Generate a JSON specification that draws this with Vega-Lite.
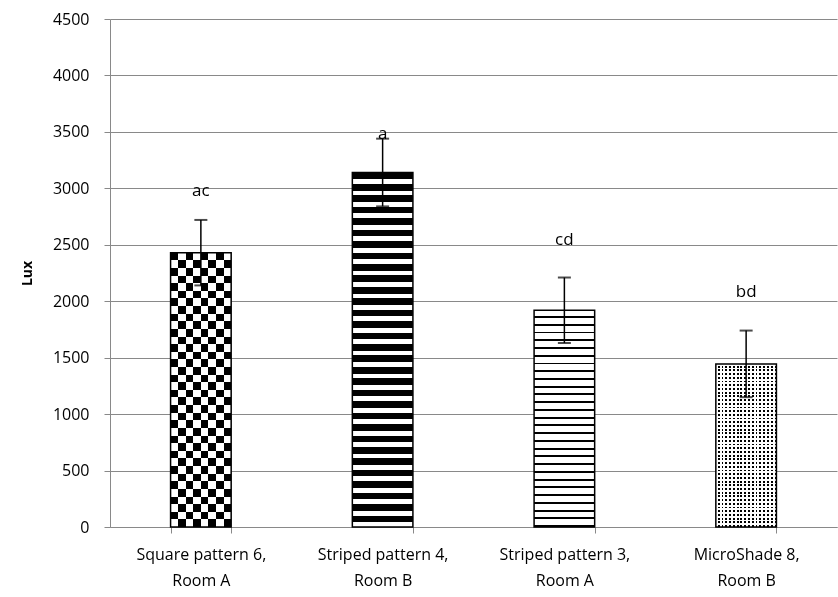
{
  "$schema": "https://vega.github.io/schema/vega-lite/v6.json",
  "autosize": "none",
  "width": 727,
  "height": 508,
  "padding": {"left": 110, "top": 19, "right": 1, "bottom": 70},
  "background": "white",
  "config": {
    "view": {"stroke": null},
    "font": "Open Sans",
    "axis": {"labelColor": "#000000", "titleColor": "#000000"}
  },
  "data": {
    "values": [
      {"cat": "Square pattern 6, Room A", "mean": 2430, "lo": 2140, "hi": 2720, "sig": "ac", "sig_y": 2976, "pat": "check"},
      {"cat": "Striped pattern 4, Room B", "mean": 3140, "lo": 2840, "hi": 3440, "sig": "a", "sig_y": 3481, "pat": "thick"},
      {"cat": "Striped pattern 3, Room A", "mean": 1920, "lo": 1630, "hi": 2210, "sig": "cd", "sig_y": 2542, "pat": "thin"},
      {"cat": "MicroShade 8, Room B", "mean": 1445, "lo": 1150, "hi": 1740, "sig": "bd", "sig_y": 2082, "pat": "dots"}
    ]
  },
  "encoding": {
    "x": {
      "field": "cat", "type": "nominal", "sort": null,
      "scale": {"paddingInner": 0.6667, "paddingOuter": 0.3333},
      "axis": {
        "title": null, "labelAngle": 0, "labelFontSize": 16, "labelLineHeight": 26,
        "labelPadding": 13, "tickBand": "extent", "tickSize": 6, "tickColor": "#898989",
        "domainColor": "#898989", "grid": false,
        "labelExpr": "[slice(datum.label, 0, indexof(datum.label, ',') + 1), slice(datum.label, indexof(datum.label, ',') + 2)]"
      }
    }
  },
  "layer": [
    {
      "transform": [{"filter": "datum.pat == 'check'"}],
      "mark": {"type": "bar", "fill": {"gradient": "linear", "x1": 0, "y1": 0, "x2": 0, "y2": 1, "stops": [
        {"offset": 0, "color": "black"}, {"offset": 0.02778, "color": "black"}, {"offset": 0.02778, "color": "white"}, {"offset": 0.05556, "color": "white"},
        {"offset": 0.05556, "color": "black"}, {"offset": 0.08333, "color": "black"}, {"offset": 0.08333, "color": "white"}, {"offset": 0.11111, "color": "white"},
        {"offset": 0.11111, "color": "black"}, {"offset": 0.13889, "color": "black"}, {"offset": 0.13889, "color": "white"}, {"offset": 0.16667, "color": "white"},
        {"offset": 0.16667, "color": "black"}, {"offset": 0.19444, "color": "black"}, {"offset": 0.19444, "color": "white"}, {"offset": 0.22222, "color": "white"},
        {"offset": 0.22222, "color": "black"}, {"offset": 0.25, "color": "black"}, {"offset": 0.25, "color": "white"}, {"offset": 0.27778, "color": "white"},
        {"offset": 0.27778, "color": "black"}, {"offset": 0.30556, "color": "black"}, {"offset": 0.30556, "color": "white"}, {"offset": 0.33333, "color": "white"},
        {"offset": 0.33333, "color": "black"}, {"offset": 0.36111, "color": "black"}, {"offset": 0.36111, "color": "white"}, {"offset": 0.38889, "color": "white"},
        {"offset": 0.38889, "color": "black"}, {"offset": 0.41667, "color": "black"}, {"offset": 0.41667, "color": "white"}, {"offset": 0.44444, "color": "white"},
        {"offset": 0.44444, "color": "black"}, {"offset": 0.47222, "color": "black"}, {"offset": 0.47222, "color": "white"}, {"offset": 0.5, "color": "white"},
        {"offset": 0.5, "color": "black"}, {"offset": 0.52778, "color": "black"}, {"offset": 0.52778, "color": "white"}, {"offset": 0.55556, "color": "white"},
        {"offset": 0.55556, "color": "black"}, {"offset": 0.58333, "color": "black"}, {"offset": 0.58333, "color": "white"}, {"offset": 0.61111, "color": "white"},
        {"offset": 0.61111, "color": "black"}, {"offset": 0.63889, "color": "black"}, {"offset": 0.63889, "color": "white"}, {"offset": 0.66667, "color": "white"},
        {"offset": 0.66667, "color": "black"}, {"offset": 0.69444, "color": "black"}, {"offset": 0.69444, "color": "white"}, {"offset": 0.72222, "color": "white"},
        {"offset": 0.72222, "color": "black"}, {"offset": 0.75, "color": "black"}, {"offset": 0.75, "color": "white"}, {"offset": 0.77778, "color": "white"},
        {"offset": 0.77778, "color": "black"}, {"offset": 0.80556, "color": "black"}, {"offset": 0.80556, "color": "white"}, {"offset": 0.83333, "color": "white"},
        {"offset": 0.83333, "color": "black"}, {"offset": 0.86111, "color": "black"}, {"offset": 0.86111, "color": "white"}, {"offset": 0.88889, "color": "white"},
        {"offset": 0.88889, "color": "black"}, {"offset": 0.91667, "color": "black"}, {"offset": 0.91667, "color": "white"}, {"offset": 0.94444, "color": "white"},
        {"offset": 0.94444, "color": "black"}, {"offset": 0.97222, "color": "black"}, {"offset": 0.97222, "color": "white"}, {"offset": 1, "color": "white"}
      ]}},
      "encoding": {"y": {"field": "mean", "type": "quantitative"}}
    },
    {
      "transform": [{"filter": "datum.pat == 'check'"}],
      "mark": {"type": "bar", "blend": "difference", "fill": {"gradient": "linear", "x1": 0, "y1": 0, "x2": 1, "y2": 0, "stops": [
        {"offset": 0, "color": "rgba(255,255,255,0)"}, {"offset": 0.125, "color": "rgba(255,255,255,0)"}, {"offset": 0.125, "color": "white"}, {"offset": 0.25, "color": "white"},
        {"offset": 0.25, "color": "rgba(255,255,255,0)"}, {"offset": 0.375, "color": "rgba(255,255,255,0)"}, {"offset": 0.375, "color": "white"}, {"offset": 0.5, "color": "white"},
        {"offset": 0.5, "color": "rgba(255,255,255,0)"}, {"offset": 0.625, "color": "rgba(255,255,255,0)"}, {"offset": 0.625, "color": "white"}, {"offset": 0.75, "color": "white"},
        {"offset": 0.75, "color": "rgba(255,255,255,0)"}, {"offset": 0.875, "color": "rgba(255,255,255,0)"}, {"offset": 0.875, "color": "white"}, {"offset": 1, "color": "white"}
      ]}},
      "encoding": {"y": {"field": "mean", "type": "quantitative"}}
    },
    {
      "transform": [{"filter": "datum.pat == 'thick'"}],
      "mark": {"type": "bar", "fill": {"gradient": "linear", "x1": 0, "y1": 0, "x2": 0, "y2": 1, "stops": [
        {"offset": 0, "color": "black"}, {"offset": 0.01871, "color": "black"}, {"offset": 0.01871, "color": "white"}, {"offset": 0.03226, "color": "white"},
        {"offset": 0.03226, "color": "black"}, {"offset": 0.05097, "color": "black"}, {"offset": 0.05097, "color": "white"}, {"offset": 0.06452, "color": "white"},
        {"offset": 0.06452, "color": "black"}, {"offset": 0.08323, "color": "black"}, {"offset": 0.08323, "color": "white"}, {"offset": 0.09677, "color": "white"},
        {"offset": 0.09677, "color": "black"}, {"offset": 0.11548, "color": "black"}, {"offset": 0.11548, "color": "white"}, {"offset": 0.12903, "color": "white"},
        {"offset": 0.12903, "color": "black"}, {"offset": 0.14774, "color": "black"}, {"offset": 0.14774, "color": "white"}, {"offset": 0.16129, "color": "white"},
        {"offset": 0.16129, "color": "black"}, {"offset": 0.18, "color": "black"}, {"offset": 0.18, "color": "white"}, {"offset": 0.19355, "color": "white"},
        {"offset": 0.19355, "color": "black"}, {"offset": 0.21226, "color": "black"}, {"offset": 0.21226, "color": "white"}, {"offset": 0.22581, "color": "white"},
        {"offset": 0.22581, "color": "black"}, {"offset": 0.24452, "color": "black"}, {"offset": 0.24452, "color": "white"}, {"offset": 0.25806, "color": "white"},
        {"offset": 0.25806, "color": "black"}, {"offset": 0.27677, "color": "black"}, {"offset": 0.27677, "color": "white"}, {"offset": 0.29032, "color": "white"},
        {"offset": 0.29032, "color": "black"}, {"offset": 0.30903, "color": "black"}, {"offset": 0.30903, "color": "white"}, {"offset": 0.32258, "color": "white"},
        {"offset": 0.32258, "color": "black"}, {"offset": 0.34129, "color": "black"}, {"offset": 0.34129, "color": "white"}, {"offset": 0.35484, "color": "white"},
        {"offset": 0.35484, "color": "black"}, {"offset": 0.37355, "color": "black"}, {"offset": 0.37355, "color": "white"}, {"offset": 0.3871, "color": "white"},
        {"offset": 0.3871, "color": "black"}, {"offset": 0.40581, "color": "black"}, {"offset": 0.40581, "color": "white"}, {"offset": 0.41935, "color": "white"},
        {"offset": 0.41935, "color": "black"}, {"offset": 0.43806, "color": "black"}, {"offset": 0.43806, "color": "white"}, {"offset": 0.45161, "color": "white"},
        {"offset": 0.45161, "color": "black"}, {"offset": 0.47032, "color": "black"}, {"offset": 0.47032, "color": "white"}, {"offset": 0.48387, "color": "white"},
        {"offset": 0.48387, "color": "black"}, {"offset": 0.50258, "color": "black"}, {"offset": 0.50258, "color": "white"}, {"offset": 0.51613, "color": "white"},
        {"offset": 0.51613, "color": "black"}, {"offset": 0.53484, "color": "black"}, {"offset": 0.53484, "color": "white"}, {"offset": 0.54839, "color": "white"},
        {"offset": 0.54839, "color": "black"}, {"offset": 0.5671, "color": "black"}, {"offset": 0.5671, "color": "white"}, {"offset": 0.58065, "color": "white"},
        {"offset": 0.58065, "color": "black"}, {"offset": 0.59936, "color": "black"}, {"offset": 0.59936, "color": "white"}, {"offset": 0.6129, "color": "white"},
        {"offset": 0.6129, "color": "black"}, {"offset": 0.63161, "color": "black"}, {"offset": 0.63161, "color": "white"}, {"offset": 0.64516, "color": "white"},
        {"offset": 0.64516, "color": "black"}, {"offset": 0.66387, "color": "black"}, {"offset": 0.66387, "color": "white"}, {"offset": 0.67742, "color": "white"},
        {"offset": 0.67742, "color": "black"}, {"offset": 0.69613, "color": "black"}, {"offset": 0.69613, "color": "white"}, {"offset": 0.70968, "color": "white"},
        {"offset": 0.70968, "color": "black"}, {"offset": 0.72839, "color": "black"}, {"offset": 0.72839, "color": "white"}, {"offset": 0.74194, "color": "white"},
        {"offset": 0.74194, "color": "black"}, {"offset": 0.76065, "color": "black"}, {"offset": 0.76065, "color": "white"}, {"offset": 0.77419, "color": "white"},
        {"offset": 0.77419, "color": "black"}, {"offset": 0.7929, "color": "black"}, {"offset": 0.7929, "color": "white"}, {"offset": 0.80645, "color": "white"},
        {"offset": 0.80645, "color": "black"}, {"offset": 0.82516, "color": "black"}, {"offset": 0.82516, "color": "white"}, {"offset": 0.83871, "color": "white"},
        {"offset": 0.83871, "color": "black"}, {"offset": 0.85742, "color": "black"}, {"offset": 0.85742, "color": "white"}, {"offset": 0.87097, "color": "white"},
        {"offset": 0.87097, "color": "black"}, {"offset": 0.88968, "color": "black"}, {"offset": 0.88968, "color": "white"}, {"offset": 0.90323, "color": "white"},
        {"offset": 0.90323, "color": "black"}, {"offset": 0.92194, "color": "black"}, {"offset": 0.92194, "color": "white"}, {"offset": 0.93548, "color": "white"},
        {"offset": 0.93548, "color": "black"}, {"offset": 0.95419, "color": "black"}, {"offset": 0.95419, "color": "white"}, {"offset": 0.96774, "color": "white"},
        {"offset": 0.96774, "color": "black"}, {"offset": 0.98645, "color": "black"}, {"offset": 0.98645, "color": "white"}, {"offset": 1, "color": "white"}
      ]}},
      "encoding": {"y": {"field": "mean", "type": "quantitative"}}
    },
    {
      "transform": [{"filter": "datum.pat == 'thin'"}],
      "mark": {"type": "bar", "fill": {"gradient": "linear", "x1": 0, "y1": 0, "x2": 0, "y2": 1, "stops": [
        {"offset": 0, "color": "white"}, {"offset": 0.02679, "color": "white"}, {"offset": 0.02679, "color": "black"}, {"offset": 0.03571, "color": "black"},
        {"offset": 0.03571, "color": "white"}, {"offset": 0.0625, "color": "white"}, {"offset": 0.0625, "color": "black"}, {"offset": 0.07143, "color": "black"},
        {"offset": 0.07143, "color": "white"}, {"offset": 0.09821, "color": "white"}, {"offset": 0.09821, "color": "black"}, {"offset": 0.10714, "color": "black"},
        {"offset": 0.10714, "color": "white"}, {"offset": 0.13393, "color": "white"}, {"offset": 0.13393, "color": "black"}, {"offset": 0.14286, "color": "black"},
        {"offset": 0.14286, "color": "white"}, {"offset": 0.16964, "color": "white"}, {"offset": 0.16964, "color": "black"}, {"offset": 0.17857, "color": "black"},
        {"offset": 0.17857, "color": "white"}, {"offset": 0.20536, "color": "white"}, {"offset": 0.20536, "color": "black"}, {"offset": 0.21429, "color": "black"},
        {"offset": 0.21429, "color": "white"}, {"offset": 0.24107, "color": "white"}, {"offset": 0.24107, "color": "black"}, {"offset": 0.25, "color": "black"},
        {"offset": 0.25, "color": "white"}, {"offset": 0.27679, "color": "white"}, {"offset": 0.27679, "color": "black"}, {"offset": 0.28571, "color": "black"},
        {"offset": 0.28571, "color": "white"}, {"offset": 0.3125, "color": "white"}, {"offset": 0.3125, "color": "black"}, {"offset": 0.32143, "color": "black"},
        {"offset": 0.32143, "color": "white"}, {"offset": 0.34821, "color": "white"}, {"offset": 0.34821, "color": "black"}, {"offset": 0.35714, "color": "black"},
        {"offset": 0.35714, "color": "white"}, {"offset": 0.38393, "color": "white"}, {"offset": 0.38393, "color": "black"}, {"offset": 0.39286, "color": "black"},
        {"offset": 0.39286, "color": "white"}, {"offset": 0.41964, "color": "white"}, {"offset": 0.41964, "color": "black"}, {"offset": 0.42857, "color": "black"},
        {"offset": 0.42857, "color": "white"}, {"offset": 0.45536, "color": "white"}, {"offset": 0.45536, "color": "black"}, {"offset": 0.46429, "color": "black"},
        {"offset": 0.46429, "color": "white"}, {"offset": 0.49107, "color": "white"}, {"offset": 0.49107, "color": "black"}, {"offset": 0.5, "color": "black"},
        {"offset": 0.5, "color": "white"}, {"offset": 0.52679, "color": "white"}, {"offset": 0.52679, "color": "black"}, {"offset": 0.53571, "color": "black"},
        {"offset": 0.53571, "color": "white"}, {"offset": 0.5625, "color": "white"}, {"offset": 0.5625, "color": "black"}, {"offset": 0.57143, "color": "black"},
        {"offset": 0.57143, "color": "white"}, {"offset": 0.59821, "color": "white"}, {"offset": 0.59821, "color": "black"}, {"offset": 0.60714, "color": "black"},
        {"offset": 0.60714, "color": "white"}, {"offset": 0.63393, "color": "white"}, {"offset": 0.63393, "color": "black"}, {"offset": 0.64286, "color": "black"},
        {"offset": 0.64286, "color": "white"}, {"offset": 0.66964, "color": "white"}, {"offset": 0.66964, "color": "black"}, {"offset": 0.67857, "color": "black"},
        {"offset": 0.67857, "color": "white"}, {"offset": 0.70536, "color": "white"}, {"offset": 0.70536, "color": "black"}, {"offset": 0.71429, "color": "black"},
        {"offset": 0.71429, "color": "white"}, {"offset": 0.74107, "color": "white"}, {"offset": 0.74107, "color": "black"}, {"offset": 0.75, "color": "black"},
        {"offset": 0.75, "color": "white"}, {"offset": 0.77679, "color": "white"}, {"offset": 0.77679, "color": "black"}, {"offset": 0.78571, "color": "black"},
        {"offset": 0.78571, "color": "white"}, {"offset": 0.8125, "color": "white"}, {"offset": 0.8125, "color": "black"}, {"offset": 0.82143, "color": "black"},
        {"offset": 0.82143, "color": "white"}, {"offset": 0.84821, "color": "white"}, {"offset": 0.84821, "color": "black"}, {"offset": 0.85714, "color": "black"},
        {"offset": 0.85714, "color": "white"}, {"offset": 0.88393, "color": "white"}, {"offset": 0.88393, "color": "black"}, {"offset": 0.89286, "color": "black"},
        {"offset": 0.89286, "color": "white"}, {"offset": 0.91964, "color": "white"}, {"offset": 0.91964, "color": "black"}, {"offset": 0.92857, "color": "black"},
        {"offset": 0.92857, "color": "white"}, {"offset": 0.95536, "color": "white"}, {"offset": 0.95536, "color": "black"}, {"offset": 0.96429, "color": "black"},
        {"offset": 0.96429, "color": "white"}, {"offset": 0.99107, "color": "white"}, {"offset": 0.99107, "color": "black"}, {"offset": 1, "color": "black"}
      ]}},
      "encoding": {"y": {"field": "mean", "type": "quantitative"}}
    },
    {
      "transform": [{"filter": "datum.pat == 'dots'"}],
      "mark": {"type": "bar", "fill": {"gradient": "linear", "x1": 0, "y1": 0, "x2": 0, "y2": 1, "stops": [
        {"offset": 0, "color": "white"}, {"offset": 0.01136, "color": "white"}, {"offset": 0.01136, "color": "black"}, {"offset": 0.02273, "color": "black"},
        {"offset": 0.02273, "color": "white"}, {"offset": 0.03409, "color": "white"}, {"offset": 0.03409, "color": "black"}, {"offset": 0.04545, "color": "black"},
        {"offset": 0.04545, "color": "white"}, {"offset": 0.05682, "color": "white"}, {"offset": 0.05682, "color": "black"}, {"offset": 0.06818, "color": "black"},
        {"offset": 0.06818, "color": "white"}, {"offset": 0.07955, "color": "white"}, {"offset": 0.07955, "color": "black"}, {"offset": 0.09091, "color": "black"},
        {"offset": 0.09091, "color": "white"}, {"offset": 0.10227, "color": "white"}, {"offset": 0.10227, "color": "black"}, {"offset": 0.11364, "color": "black"},
        {"offset": 0.11364, "color": "white"}, {"offset": 0.125, "color": "white"}, {"offset": 0.125, "color": "black"}, {"offset": 0.13636, "color": "black"},
        {"offset": 0.13636, "color": "white"}, {"offset": 0.14773, "color": "white"}, {"offset": 0.14773, "color": "black"}, {"offset": 0.15909, "color": "black"},
        {"offset": 0.15909, "color": "white"}, {"offset": 0.17045, "color": "white"}, {"offset": 0.17045, "color": "black"}, {"offset": 0.18182, "color": "black"},
        {"offset": 0.18182, "color": "white"}, {"offset": 0.19318, "color": "white"}, {"offset": 0.19318, "color": "black"}, {"offset": 0.20455, "color": "black"},
        {"offset": 0.20455, "color": "white"}, {"offset": 0.21591, "color": "white"}, {"offset": 0.21591, "color": "black"}, {"offset": 0.22727, "color": "black"},
        {"offset": 0.22727, "color": "white"}, {"offset": 0.23864, "color": "white"}, {"offset": 0.23864, "color": "black"}, {"offset": 0.25, "color": "black"},
        {"offset": 0.25, "color": "white"}, {"offset": 0.26136, "color": "white"}, {"offset": 0.26136, "color": "black"}, {"offset": 0.27273, "color": "black"},
        {"offset": 0.27273, "color": "white"}, {"offset": 0.28409, "color": "white"}, {"offset": 0.28409, "color": "black"}, {"offset": 0.29545, "color": "black"},
        {"offset": 0.29545, "color": "white"}, {"offset": 0.30682, "color": "white"}, {"offset": 0.30682, "color": "black"}, {"offset": 0.31818, "color": "black"},
        {"offset": 0.31818, "color": "white"}, {"offset": 0.32955, "color": "white"}, {"offset": 0.32955, "color": "black"}, {"offset": 0.34091, "color": "black"},
        {"offset": 0.34091, "color": "white"}, {"offset": 0.35227, "color": "white"}, {"offset": 0.35227, "color": "black"}, {"offset": 0.36364, "color": "black"},
        {"offset": 0.36364, "color": "white"}, {"offset": 0.375, "color": "white"}, {"offset": 0.375, "color": "black"}, {"offset": 0.38636, "color": "black"},
        {"offset": 0.38636, "color": "white"}, {"offset": 0.39773, "color": "white"}, {"offset": 0.39773, "color": "black"}, {"offset": 0.40909, "color": "black"},
        {"offset": 0.40909, "color": "white"}, {"offset": 0.42045, "color": "white"}, {"offset": 0.42045, "color": "black"}, {"offset": 0.43182, "color": "black"},
        {"offset": 0.43182, "color": "white"}, {"offset": 0.44318, "color": "white"}, {"offset": 0.44318, "color": "black"}, {"offset": 0.45455, "color": "black"},
        {"offset": 0.45455, "color": "white"}, {"offset": 0.46591, "color": "white"}, {"offset": 0.46591, "color": "black"}, {"offset": 0.47727, "color": "black"},
        {"offset": 0.47727, "color": "white"}, {"offset": 0.48864, "color": "white"}, {"offset": 0.48864, "color": "black"}, {"offset": 0.5, "color": "black"},
        {"offset": 0.5, "color": "white"}, {"offset": 0.51136, "color": "white"}, {"offset": 0.51136, "color": "black"}, {"offset": 0.52273, "color": "black"},
        {"offset": 0.52273, "color": "white"}, {"offset": 0.53409, "color": "white"}, {"offset": 0.53409, "color": "black"}, {"offset": 0.54545, "color": "black"},
        {"offset": 0.54545, "color": "white"}, {"offset": 0.55682, "color": "white"}, {"offset": 0.55682, "color": "black"}, {"offset": 0.56818, "color": "black"},
        {"offset": 0.56818, "color": "white"}, {"offset": 0.57955, "color": "white"}, {"offset": 0.57955, "color": "black"}, {"offset": 0.59091, "color": "black"},
        {"offset": 0.59091, "color": "white"}, {"offset": 0.60227, "color": "white"}, {"offset": 0.60227, "color": "black"}, {"offset": 0.61364, "color": "black"},
        {"offset": 0.61364, "color": "white"}, {"offset": 0.625, "color": "white"}, {"offset": 0.625, "color": "black"}, {"offset": 0.63636, "color": "black"},
        {"offset": 0.63636, "color": "white"}, {"offset": 0.64773, "color": "white"}, {"offset": 0.64773, "color": "black"}, {"offset": 0.65909, "color": "black"},
        {"offset": 0.65909, "color": "white"}, {"offset": 0.67045, "color": "white"}, {"offset": 0.67045, "color": "black"}, {"offset": 0.68182, "color": "black"},
        {"offset": 0.68182, "color": "white"}, {"offset": 0.69318, "color": "white"}, {"offset": 0.69318, "color": "black"}, {"offset": 0.70455, "color": "black"},
        {"offset": 0.70455, "color": "white"}, {"offset": 0.71591, "color": "white"}, {"offset": 0.71591, "color": "black"}, {"offset": 0.72727, "color": "black"},
        {"offset": 0.72727, "color": "white"}, {"offset": 0.73864, "color": "white"}, {"offset": 0.73864, "color": "black"}, {"offset": 0.75, "color": "black"},
        {"offset": 0.75, "color": "white"}, {"offset": 0.76136, "color": "white"}, {"offset": 0.76136, "color": "black"}, {"offset": 0.77273, "color": "black"},
        {"offset": 0.77273, "color": "white"}, {"offset": 0.78409, "color": "white"}, {"offset": 0.78409, "color": "black"}, {"offset": 0.79545, "color": "black"},
        {"offset": 0.79545, "color": "white"}, {"offset": 0.80682, "color": "white"}, {"offset": 0.80682, "color": "black"}, {"offset": 0.81818, "color": "black"},
        {"offset": 0.81818, "color": "white"}, {"offset": 0.82955, "color": "white"}, {"offset": 0.82955, "color": "black"}, {"offset": 0.84091, "color": "black"},
        {"offset": 0.84091, "color": "white"}, {"offset": 0.85227, "color": "white"}, {"offset": 0.85227, "color": "black"}, {"offset": 0.86364, "color": "black"},
        {"offset": 0.86364, "color": "white"}, {"offset": 0.875, "color": "white"}, {"offset": 0.875, "color": "black"}, {"offset": 0.88636, "color": "black"},
        {"offset": 0.88636, "color": "white"}, {"offset": 0.89773, "color": "white"}, {"offset": 0.89773, "color": "black"}, {"offset": 0.90909, "color": "black"},
        {"offset": 0.90909, "color": "white"}, {"offset": 0.92045, "color": "white"}, {"offset": 0.92045, "color": "black"}, {"offset": 0.93182, "color": "black"},
        {"offset": 0.93182, "color": "white"}, {"offset": 0.94318, "color": "white"}, {"offset": 0.94318, "color": "black"}, {"offset": 0.95455, "color": "black"},
        {"offset": 0.95455, "color": "white"}, {"offset": 0.96591, "color": "white"}, {"offset": 0.96591, "color": "black"}, {"offset": 0.97727, "color": "black"},
        {"offset": 0.97727, "color": "white"}, {"offset": 0.98864, "color": "white"}, {"offset": 0.98864, "color": "black"}, {"offset": 1, "color": "black"}
      ]}},
      "encoding": {"y": {"field": "mean", "type": "quantitative"}}
    },
    {
      "transform": [{"filter": "datum.pat == 'dots'"}],
      "mark": {"type": "bar", "blend": "lighten", "fill": {"gradient": "linear", "x1": 0, "y1": 0, "x2": 1, "y2": 0, "stops": [
        {"offset": 0, "color": "white"}, {"offset": 0.03125, "color": "white"}, {"offset": 0.03125, "color": "black"}, {"offset": 0.0625, "color": "black"},
        {"offset": 0.0625, "color": "white"}, {"offset": 0.09375, "color": "white"}, {"offset": 0.09375, "color": "black"}, {"offset": 0.125, "color": "black"},
        {"offset": 0.125, "color": "white"}, {"offset": 0.15625, "color": "white"}, {"offset": 0.15625, "color": "black"}, {"offset": 0.1875, "color": "black"},
        {"offset": 0.1875, "color": "white"}, {"offset": 0.21875, "color": "white"}, {"offset": 0.21875, "color": "black"}, {"offset": 0.25, "color": "black"},
        {"offset": 0.25, "color": "white"}, {"offset": 0.28125, "color": "white"}, {"offset": 0.28125, "color": "black"}, {"offset": 0.3125, "color": "black"},
        {"offset": 0.3125, "color": "white"}, {"offset": 0.34375, "color": "white"}, {"offset": 0.34375, "color": "black"}, {"offset": 0.375, "color": "black"},
        {"offset": 0.375, "color": "white"}, {"offset": 0.40625, "color": "white"}, {"offset": 0.40625, "color": "black"}, {"offset": 0.4375, "color": "black"},
        {"offset": 0.4375, "color": "white"}, {"offset": 0.46875, "color": "white"}, {"offset": 0.46875, "color": "black"}, {"offset": 0.5, "color": "black"},
        {"offset": 0.5, "color": "white"}, {"offset": 0.53125, "color": "white"}, {"offset": 0.53125, "color": "black"}, {"offset": 0.5625, "color": "black"},
        {"offset": 0.5625, "color": "white"}, {"offset": 0.59375, "color": "white"}, {"offset": 0.59375, "color": "black"}, {"offset": 0.625, "color": "black"},
        {"offset": 0.625, "color": "white"}, {"offset": 0.65625, "color": "white"}, {"offset": 0.65625, "color": "black"}, {"offset": 0.6875, "color": "black"},
        {"offset": 0.6875, "color": "white"}, {"offset": 0.71875, "color": "white"}, {"offset": 0.71875, "color": "black"}, {"offset": 0.75, "color": "black"},
        {"offset": 0.75, "color": "white"}, {"offset": 0.78125, "color": "white"}, {"offset": 0.78125, "color": "black"}, {"offset": 0.8125, "color": "black"},
        {"offset": 0.8125, "color": "white"}, {"offset": 0.84375, "color": "white"}, {"offset": 0.84375, "color": "black"}, {"offset": 0.875, "color": "black"},
        {"offset": 0.875, "color": "white"}, {"offset": 0.90625, "color": "white"}, {"offset": 0.90625, "color": "black"}, {"offset": 0.9375, "color": "black"},
        {"offset": 0.9375, "color": "white"}, {"offset": 0.96875, "color": "white"}, {"offset": 0.96875, "color": "black"}, {"offset": 1, "color": "black"}
      ]}},
      "encoding": {"y": {"field": "mean", "type": "quantitative"}}
    },
    {
      "mark": {"type": "bar", "fill": null, "fillOpacity": 0, "stroke": "black", "strokeWidth": 1.5},
      "encoding": {
        "y": {
          "field": "mean", "type": "quantitative",
          "scale": {"domain": [0, 4500], "nice": false},
          "axis": {
            "title": "Lux", "titleFontWeight": "bold", "titleFontSize": 14, "titlePadding": 18,
            "values": [0, 500, 1000, 1500, 2000, 2500, 3000, 3500, 4000, 4500],
            "format": "d",
            "labelFontSize": 16, "labelPadding": 15, "tickSize": 6,
            "tickColor": "#898989", "domainColor": "#898989",
            "grid": true, "gridColor": "#898989", "gridWidth": 1
          }
        }
      }
    },
    {
      "mark": {"type": "rule", "color": "black", "strokeWidth": 1.5},
      "encoding": {"y": {"field": "lo", "type": "quantitative"}, "y2": {"field": "hi"}}
    },
    {
      "mark": {"type": "tick", "color": "black", "size": 13, "thickness": 2},
      "encoding": {"y": {"field": "hi", "type": "quantitative"}}
    },
    {
      "mark": {"type": "tick", "color": "black", "size": 13, "thickness": 2},
      "encoding": {"y": {"field": "lo", "type": "quantitative"}}
    },
    {
      "mark": {"type": "text", "fontSize": 17, "color": "black", "baseline": "middle"},
      "encoding": {"y": {"field": "sig_y", "type": "quantitative"}, "text": {"field": "sig"}}
    }
  ]
}
